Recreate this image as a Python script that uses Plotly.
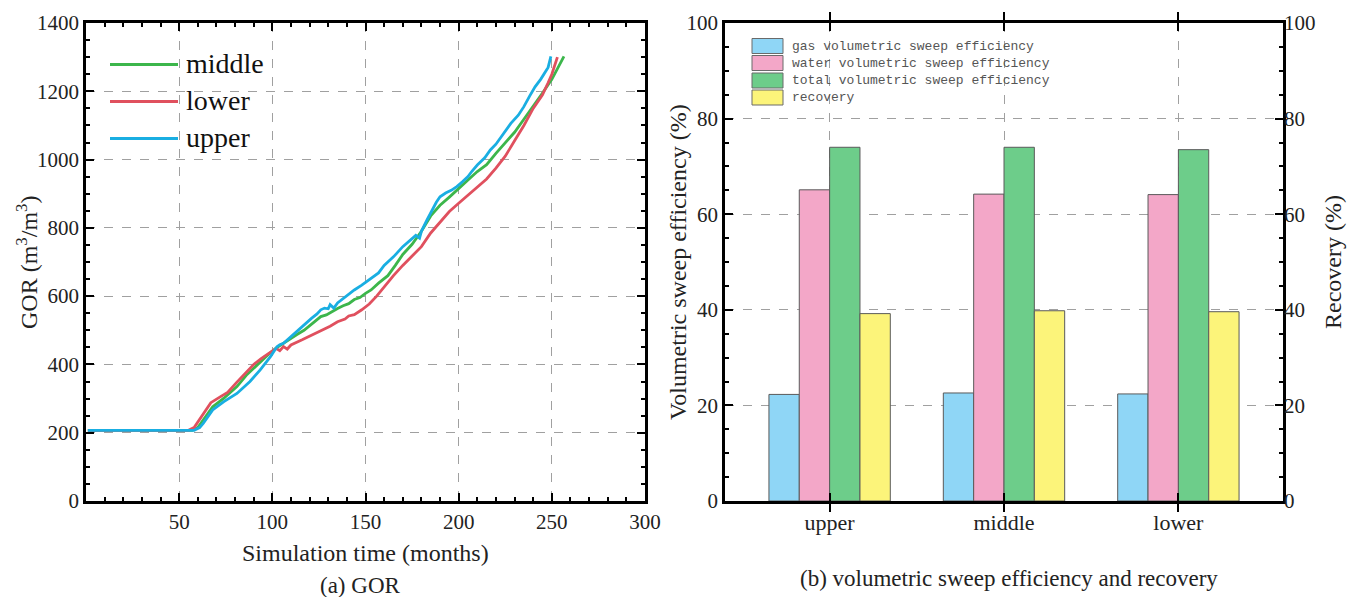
import plotly.graph_objects as go

W, H = 1348, 597

# ---------------- (a) GOR data ----------------
middle_t = [1, 57, 60, 63, 68, 74, 81, 86, 92, 98, 102, 108, 113, 117, 121, 124, 126, 129, 132, 135,
            138, 141, 144, 147, 150, 153, 157, 162, 166, 170, 175, 180, 185, 190, 195, 200, 205, 210,
            215, 220, 225, 230, 235, 240, 245, 250, 253, 256.5]
middle_gor = [207, 207, 215, 237, 276, 301, 335, 368, 400, 430, 448, 470, 487, 500, 518, 530, 540, 545, 555, 564,
              572, 578, 590, 596, 608, 618, 638, 660, 690, 722, 752, 790, 835, 866, 890, 914, 940, 965,
              985, 1018, 1048, 1080, 1118, 1155, 1195, 1235, 1265, 1302]

lower_t = [1, 55, 58, 63, 67, 72, 76, 81, 85, 90, 94, 99, 102, 104, 106, 108, 110, 116, 121, 126, 131, 135,
           139, 141, 144, 148, 152, 156, 160, 165, 170, 175, 180, 185, 190, 195, 200, 205, 210, 215, 220,
           225, 230, 235, 240, 245, 248, 250, 253]
lower_gor = [207, 207, 215, 257, 288, 305, 318, 348, 372, 400, 417, 436, 447, 440, 452, 445, 457, 472, 485, 497, 512, 525,
             533, 542, 546, 560, 577, 600, 628, 660, 690, 718, 745, 785, 815, 848, 872, 895, 920, 943, 975,
             1010, 1055, 1100, 1150, 1190, 1225, 1250, 1300]

upper_t = [1, 58, 61, 63, 68, 74, 81, 85, 88, 93.5, 99, 102.5, 104, 106, 108, 112, 117, 121, 124, 126, 128, 130,
           131, 133, 135, 139, 144, 148, 153, 157, 160, 165, 170, 174, 177, 179, 180, 183, 186, 188, 190, 193,
           196, 199, 202, 205, 207, 210, 214, 217, 220, 223, 226, 228, 232, 235, 238, 241, 244, 246, 248, 249.5]
upper_gor = [207, 207, 215, 228, 267, 291, 315, 335, 350, 384, 423, 452, 458, 462, 472, 492, 515, 535, 548, 560, 565, 563,
             575, 565, 580, 598, 618, 632, 652, 668, 690, 715, 745, 765, 778, 770, 790, 823, 855, 875, 891, 902,
             910, 921, 935, 950, 965, 984, 1005, 1028, 1045, 1067, 1090, 1106, 1130, 1155, 1185, 1213, 1235, 1252, 1270, 1302]

line_names = ["middle", "lower", "upper"]
line_colors = ["#3cb64b", "#e0505e", "#19aee2"]

# ---------------- (b) bar data ----------------
categories = ["upper", "middle", "lower"]
gas_sweep = [22.3, 22.6, 22.4]
water_sweep = [65.1, 64.2, 64.1]
total_sweep = [74.0, 74.0, 73.5]
recovery = [39.2, 39.8, 39.6]
bar_names = ["gas volumetric sweep efficiency", "water volumetric sweep efficiency",
             "total volumetric sweep efficiency", "recovery"]
bar_colors = ["#8fd6f6", "#f3a7c8", "#6dcd8a", "#fcf47a"]

x_ticks_a = [50, 100, 150, 200, 250, 300]

SERIF = "Liberation Serif, Times New Roman, serif"
MONO = "Liberation Mono, Courier New, monospace"


def px(x):
    return x / W


def py(y):
    return 1 - y / H


fig = go.Figure()

for name, t, g, c in zip(line_names, [middle_t, lower_t, upper_t], [middle_gor, lower_gor, upper_gor], line_colors):
    fig.add_trace(go.Scatter(x=t, y=g, mode="lines", name=name, line=dict(color=c, width=2.8),
                             xaxis="x", yaxis="y", showlegend=False))

bw = 0.174
offsets = [-2 * bw, -bw, 0, bw]
bar_vals = [gas_sweep, water_sweep, total_sweep, recovery]
for i, (name, vals, c, off) in enumerate(zip(bar_names, bar_vals, bar_colors, offsets)):
    fig.add_trace(go.Bar(x=categories, y=vals, name=name, width=bw, offset=off,
                         marker=dict(color=c, line=dict(color="#5a5a5a", width=1)),
                         xaxis="x2", yaxis="y3" if i == 3 else "y2", showlegend=False))

dom_y = [py(501), py(23)]
common = dict(showline=True, linecolor="black", linewidth=2.5, ticks="inside", ticklen=8, tickwidth=1.5,
              tickcolor="black", zeroline=False, showgrid=True, gridcolor="#a0a0a0", griddash="dash",
              gridwidth=1.2, automargin=False, tickfont=dict(family=SERIF, size=21, color="#222"))

fig.update_layout(
    template="none",
    width=W, height=H, margin=dict(l=0, r=0, t=0, b=0, autoexpand=False),
    plot_bgcolor="white", paper_bgcolor="white", barmode="overlay",
    font=dict(family=SERIF),
    xaxis=dict(domain=[px(86), px(645)], anchor="y", range=[0, 300], tickmode="array", tickvals=x_ticks_a,
               mirror="allticks",
               minor=dict(tickmode="linear", tick0=0, dtick=10, ticks="inside", ticklen=4, tickcolor="black",
                          showgrid=False), **common),
    yaxis=dict(domain=dom_y, anchor="x", range=[0, 1400], tickmode="linear", tick0=0, dtick=200,
               mirror="allticks",
               minor=dict(tickmode="linear", tick0=0, dtick=50, ticks="inside", ticklen=4, tickcolor="black",
                          showgrid=False), **common),
    xaxis2=dict(domain=[px(725), px(1283)], anchor="y2", type="category", range=[-0.6, 2.6],
                mirror="allticks", **{**common, "tickfont": dict(family=SERIF, size=22, color="#222")}),
    yaxis2=dict(domain=dom_y, anchor="x2", range=[0, 100], tickmode="linear", tick0=0, dtick=20,
                mirror="allticks",
                minor=dict(tickmode="linear", tick0=0, dtick=5, ticks="inside", ticklen=4, tickcolor="black",
                           showgrid=False), **common),
    yaxis3=dict(overlaying="y2", side="right", anchor="x2", range=[0, 100], tickmode="linear", tick0=0, dtick=20,
                showgrid=False, showline=False, ticks="", zeroline=False, automargin=False,
                tickfont=dict(family=SERIF, size=21, color="#222")),
)

ann = []
shapes = []

# left legend (manual, drawn in paper space)
leg_y = [64.5, 101.5, 138.5]
for name, c, yy in zip(line_names, line_colors, leg_y):
    shapes.append(dict(type="line", xref="paper", yref="paper", x0=px(110), x1=px(178), y0=py(yy), y1=py(yy),
                       line=dict(color=c, width=3)))
    ann.append(dict(xref="paper", yref="paper", x=px(184), y=py(yy - 1), text=name, showarrow=False,
                    xanchor="left", yanchor="middle", font=dict(family=SERIF, size=28, color="#111")))

# right legend
rl_y = [46, 63, 80.5, 97.5]
for name, c, yy in zip(bar_names, bar_colors, rl_y):
    shapes.append(dict(type="rect", xref="paper", yref="paper", x0=px(752), x1=px(783), y0=py(yy + 7.5),
                       y1=py(yy - 7.5), fillcolor=c, line=dict(color="#6a6a6a", width=1)))
    ann.append(dict(xref="paper", yref="paper", x=px(790), y=py(yy), text=name, showarrow=False,
                    xanchor="left", yanchor="middle", font=dict(family=MONO, size=13, color="#555")))

# axis titles
ann.append(dict(xref="paper", yref="paper", x=px(365), y=py(553), text="Simulation time (months)", showarrow=False,
                xanchor="center", yanchor="middle", font=dict(family=SERIF, size=24, color="#222")))
ann.append(dict(xref="paper", yref="paper", x=px(27), y=py(263), text="GOR (m<sup>3</sup>/m<sup>3</sup>)",
                showarrow=False, textangle=-90, xanchor="center", yanchor="middle",
                font=dict(family=SERIF, size=24, color="#222")))
ann.append(dict(xref="paper", yref="paper", x=px(678), y=py(262), text="Volumetric sweep efficiency (%)",
                showarrow=False, textangle=-90, xanchor="center", yanchor="middle",
                font=dict(family=SERIF, size=24, color="#222")))
ann.append(dict(xref="paper", yref="paper", x=px(1333), y=py(262), text="Recovery (%)",
                showarrow=False, textangle=-90, xanchor="center", yanchor="middle",
                font=dict(family=SERIF, size=24, color="#222")))

# captions
ann.append(dict(xref="paper", yref="paper", x=px(360), y=py(585), text="(a) GOR", showarrow=False,
                xanchor="center", yanchor="middle", font=dict(family=SERIF, size=23, color="#222")))
ann.append(dict(xref="paper", yref="paper", x=px(1009), y=py(578), text="(b) volumetric sweep efficiency and recovery",
                showarrow=False, xanchor="center", yanchor="middle", font=dict(family=SERIF, size=23, color="#222")))

fig.update_layout(annotations=ann, shapes=shapes)

fig.write_html("out.html")
